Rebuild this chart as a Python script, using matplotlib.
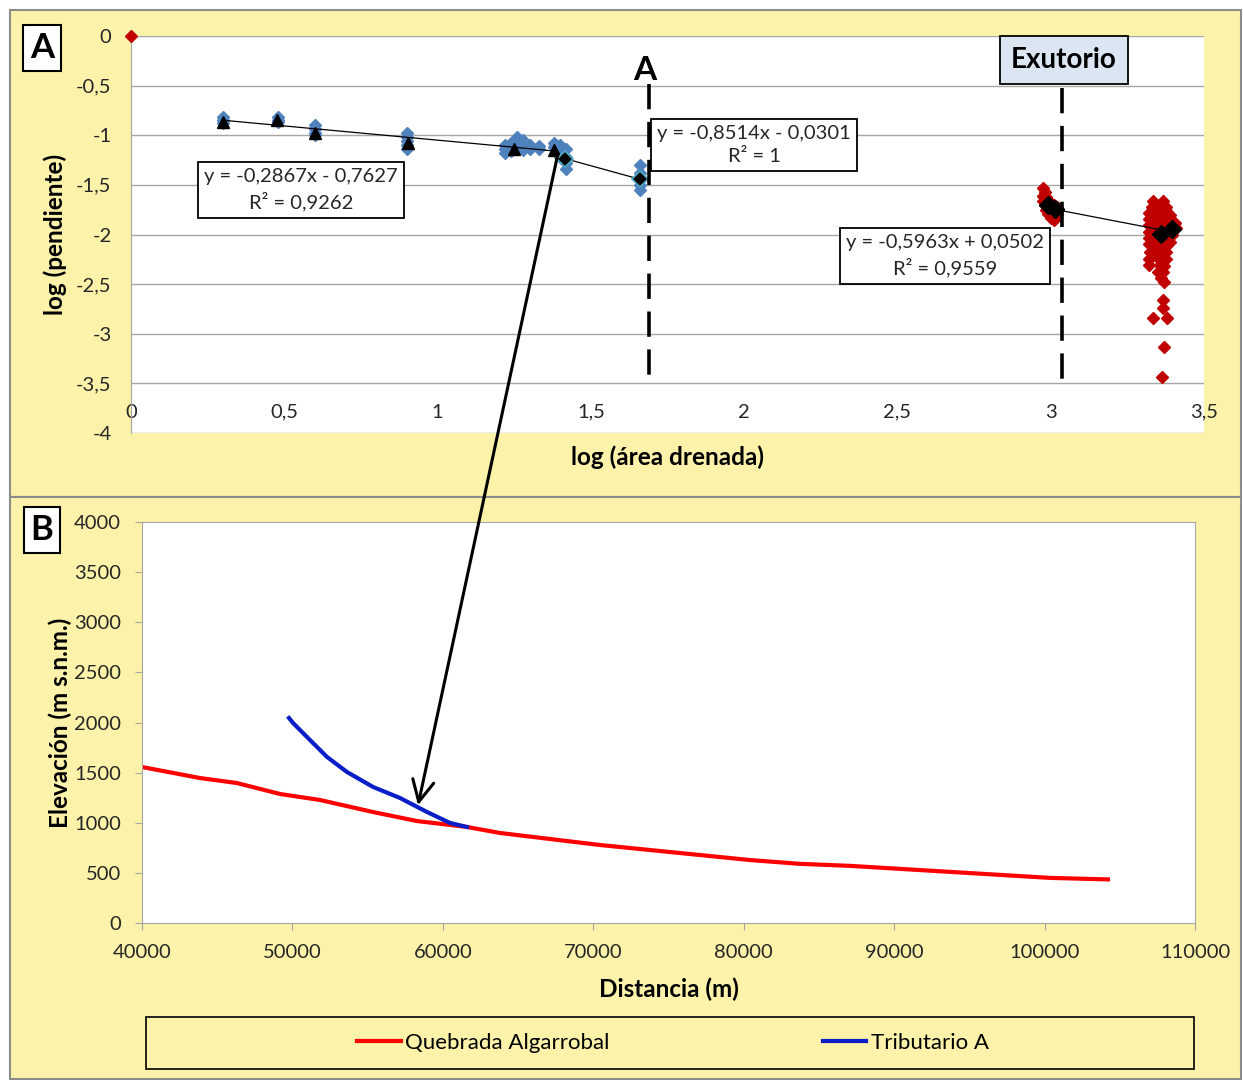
#! /usr/bin/env python3

import matplotlib
matplotlib.use("Agg")
import matplotlib.pyplot as plt
from matplotlib.patches import Rectangle, ConnectionPatch

plt.rcParams['font.family'] = ['Lato', 'DejaVu Sans']

W, H = 1243, 1080
YELLOW = '#FCF2A9'
BLUE_PT = '#4F81BD'
RED_PT = '#C00000'

# --- panel A: tributary points (log area, log slope)
trib_x = [0.30, 0.30, 0.30, 0.48, 0.48, 0.48, 0.60, 0.60, 0.60, 0.60,
          0.90, 0.90, 0.90, 0.90, 0.90, 1.22, 1.22, 1.22, 1.24, 1.24, 1.24,
          1.26, 1.26, 1.26, 1.26, 1.28, 1.28, 1.28, 1.30, 1.30, 1.33, 1.33,
          1.38, 1.38, 1.40, 1.40, 1.40, 1.42, 1.42, 1.42, 1.42,
          1.66, 1.66, 1.66, 1.66, 1.66]
trib_y = [-0.82, -0.85, -0.88, -0.82, -0.85, -0.87, -0.90, -0.94, -0.98, -1.00,
          -0.98, -1.02, -1.06, -1.10, -1.14, -1.10, -1.14, -1.18, -1.08, -1.12, -1.16,
          -1.02, -1.06, -1.10, -1.14, -1.05, -1.10, -1.15, -1.10, -1.14, -1.11, -1.14,
          -1.08, -1.12, -1.10, -1.16, -1.22, -1.14, -1.22, -1.28, -1.34,
          -1.30, -1.38, -1.44, -1.50, -1.55]

# means used for the first fit (triangles)
tri_x = [0.30, 0.476, 0.60, 0.903, 1.25, 1.38]
tri_y = [-0.866, -0.846, -0.98, -1.08, -1.14, -1.15]

# second fit (black diamonds near point A)
dia_x = [1.415, 1.66]
dia_y = [-1.235, -1.443]

# main channel points
main_x = [0.0,
          2.975, 2.98, 2.975, 2.985, 2.975, 2.99, 3.00, 2.98, 2.995, 3.01,
          3.02, 2.985, 3.00, 3.015, 3.025, 2.99, 3.005, 3.02, 3.00, 3.01,
          3.335, 3.365, 3.33, 3.345, 3.36, 3.375,
          3.32, 3.335, 3.35, 3.365, 3.38, 3.39,
          3.32, 3.335, 3.35, 3.365, 3.38, 3.395, 3.405,
          3.32, 3.335, 3.35, 3.365, 3.38, 3.395, 3.41,
          3.32, 3.335, 3.35, 3.365, 3.38, 3.395,
          3.32, 3.335, 3.35, 3.365, 3.38, 3.39,
          3.32, 3.335, 3.35, 3.365, 3.38,
          3.325, 3.345, 3.36, 3.375,
          3.32, 3.35, 3.365, 3.375,
          3.32, 3.355, 3.37,
          3.35, 3.365, 3.36, 3.37,
          3.366, 3.366, 3.333, 3.38, 3.37, 3.363]
main_y = [0.0,
          -1.53, -1.57, -1.61, -1.62, -1.66, -1.66, -1.68, -1.70, -1.72, -1.70,
          -1.72, -1.75, -1.76, -1.76, -1.75, -1.79, -1.80, -1.79, -1.83, -1.85,
          -1.66, -1.66, -1.72, -1.72, -1.71, -1.72,
          -1.78, -1.78, -1.77, -1.78, -1.77, -1.80,
          -1.84, -1.85, -1.83, -1.85, -1.84, -1.86, -1.88,
          -1.90, -1.91, -1.90, -1.92, -1.90, -1.92, -1.93,
          -1.97, -1.98, -1.96, -1.99, -1.97, -2.00,
          -2.04, -2.05, -2.03, -2.06, -2.04, -2.08,
          -2.10, -2.12, -2.10, -2.13, -2.11,
          -2.18, -2.17, -2.19, -2.18,
          -2.25, -2.24, -2.26, -2.25,
          -2.31, -2.31, -2.32,
          -2.38, -2.38, -2.44, -2.48,
          -2.66, -2.74, -2.84, -2.84, -3.13, -3.44]

main_fit_x = [2.99, 3.015, 3.36, 3.395]
main_fit_y = [-1.70, -1.745, -1.99, -1.94]

# fitted trend lines: (slope, intercept, x from, x to, label text)
fits = [(-0.2867, -0.7627, 0.30, 1.38, "y = -0,2867x - 0,7627\nR² = 0,9262"),
        (-0.8514, -0.0301, 1.38, 1.66, "y = -0,8514x - 0,0301\nR² = 1"),
        (-0.5963, 0.0502, 2.99, 3.40, "y = -0,5963x + 0,0502\nR² = 0,9559")]
fit_label_pos = [(0.555, -1.55), (2.032, -1.10), (2.655, -2.217)]

knick_x = 1.69
outlet_x = 3.037

# --- panel B: long profiles (distance m, elevation m)
quebrada_dist = [40000, 43856, 46315, 49174, 51833, 55356, 58281, 61605, 63800,
                 67122, 70446, 73770, 77094, 80418, 83742, 87066, 90390,
                 93713, 97036, 100360, 104215]
quebrada_elev = [1556, 1446, 1396, 1287, 1227, 1107, 1017, 958, 898,
                 838, 778, 728, 678, 628, 590, 570, 540,
                 510, 480, 450, 435]

trib_dist = [49772, 50040, 50970, 52300, 53630, 55360, 57150, 58950, 60475, 61600]
trib_elev = [2045, 1995, 1855, 1656, 1506, 1357, 1247, 1107, 998, 958]


def fx(px):
    return px / W


def fy(py):
    return 1 - py / H


def ax_rect(left, top, right, bottom):
    return [fx(left), fy(bottom), fx(right) - fx(left), fy(top) - fy(bottom)]


def comma(v):
    return ('%g' % v).replace('.', ',')


fig = plt.figure(figsize=(W / 100, H / 100), dpi=100)

# chart area backgrounds
for top, bottom in [(10, 497), (497, 1079)]:
    fig.add_artist(Rectangle((fx(10), fy(bottom)), fx(1241) - fx(10), fy(top) - fy(bottom),
                             transform=fig.transFigure, fc=YELLOW, ec='#8C8C8C',
                             lw=1.5, zorder=-10))

# ---------------- panel A
ax = fig.add_axes(ax_rect(131, 36, 1204, 433))
ax.set_facecolor('white')
ax.set_xlim(0, 3.5)
ax.set_ylim(-4, 0)

yt = [0, -0.5, -1, -1.5, -2, -2.5, -3, -3.5, -4]
xt = [0, 0.5, 1, 1.5, 2, 2.5, 3, 3.5]
ax.set_yticks(yt)
ax.set_yticklabels([comma(v) for v in yt])
ax.set_xticks(xt)
ax.set_xticklabels([comma(v) for v in xt])
ax.grid(axis='y', color='#A6A6A6', lw=1)
ax.set_axisbelow(True)
for s in ['top', 'right', 'bottom']:
    ax.spines[s].set_visible(False)
ax.spines['left'].set_color('#A6A6A6')
ax.tick_params(axis='y', length=0, pad=14, labelsize=14.5, colors='#262626')
ax.tick_params(axis='x', length=0, pad=-21, labelsize=14.5, colors='#262626')

ax.plot(trib_x, trib_y, 'D', color=BLUE_PT, ms=6.5, mec=BLUE_PT, zorder=3)
ax.plot(main_x, main_y, 'D', color=RED_PT, ms=6.5, mec=RED_PT, zorder=3, clip_on=False)

for (m, b, x0, x1, txt), (tx, ty) in zip(fits, fit_label_pos):
    ax.plot([x0, x1], [m * x0 + b, m * x1 + b], color='black', lw=0.9, zorder=4)
    ax.text(tx, ty, txt, ha='center', va='center', fontsize=14.5, linespacing=1.4,
            color='#262626', zorder=6,
            bbox=dict(boxstyle='square,pad=0.3', fc='white', ec='black', lw=1.3))

ax.plot(tri_x, tri_y, '^', color='black', ms=9, zorder=5)
ax.plot(dia_x, dia_y, 'D', color='black', ms=8, mec='#4BACC6', mew=1.2, zorder=5)
ax.plot(main_fit_x, main_fit_y, 'D', color='black', ms=9, zorder=5)

ax.plot([knick_x, knick_x], [-0.48, -3.54], color='black', lw=2.6,
        dashes=(7, 3.5), zorder=5)
ax.plot([outlet_x, outlet_x], [-0.52, -3.51], color='black', lw=2.6,
        dashes=(7, 3.5), zorder=5)

ax.set_xlabel('log (área drenada)', fontsize=17.5, fontweight='bold')
ax.xaxis.set_label_coords(0.5, -0.03)
ax.set_ylabel('log (pendiente)', fontsize=17.5, fontweight='bold')
ax.yaxis.set_label_coords(-0.06, 0.5)

fig.text(fx(645), fy(70), 'A', ha='center', va='center', fontsize=24, fontweight='bold')
fig.text(fx(1064), fy(60), 'Exutorio', ha='center', va='center', fontsize=20,
         fontweight='bold', zorder=6,
         bbox=dict(boxstyle='square,pad=0.4', fc='#DCE6F2', ec='black', lw=1.3))

# ---------------- panel B
bx = fig.add_axes(ax_rect(142, 522, 1195, 923))
bx.set_facecolor('white')
bx.set_xlim(40000, 110000)
bx.set_ylim(0, 4000)
bx.set_xticks(range(40000, 110001, 10000))
bx.set_yticks(range(0, 4001, 500))
for s in bx.spines.values():
    s.set_color('#A6A6A6')
bx.tick_params(axis='both', direction='out', length=5, color='#A6A6A6',
               labelsize=14.5, labelcolor='#262626')
bx.tick_params(axis='y', pad=10)
bx.tick_params(axis='x', pad=10)

bx.plot(quebrada_dist, quebrada_elev, color='#FF0000', lw=3, label='Quebrada Algarrobal')
bx.plot(trib_dist, trib_elev, color='#0A1EC8', lw=3, label='Tributario A')

bx.set_xlabel('Distancia (m)', fontsize=17.5, fontweight='bold')
bx.xaxis.set_label_coords(0.5, -0.135)
bx.set_ylabel('Elevación (m s.n.m.)', fontsize=17.5, fontweight='bold')
bx.yaxis.set_label_coords(-0.066, 0.5)

# legend frame and entries
fig.add_artist(Rectangle((fx(146), fy(1069)), fx(1194) - fx(146), fy(1017) - fy(1069),
                         transform=fig.transFigure, fc='none', ec='black', lw=1.2))
fig.legend(loc='center', bbox_to_anchor=(fx(673), fy(1043)), ncol=2,
           frameon=False, fontsize=16, handlelength=1.95, handletextpad=0.2,
           columnspacing=9.6)

# panel letters
for letter, cy in [('A', 48), ('B', 530)]:
    fig.text(fx(42), fy(cy), letter, ha='center', va='center', fontsize=25,
             fontweight='bold',
             bbox=dict(boxstyle='square,pad=0.2', fc='white', ec='black', lw=1.5))

# arrow linking the knickpoint to the junction
con = ConnectionPatch(xyA=(1.393, -1.18), coordsA=ax.transData,
                      xyB=(58350, 1175), coordsB=bx.transData,
                      arrowstyle='->,head_length=0.7,head_width=0.35',
                      mutation_scale=22, lw=2.2, color='black', zorder=10)
fig.add_artist(con)

plt.savefig('out.png', dpi=100)
